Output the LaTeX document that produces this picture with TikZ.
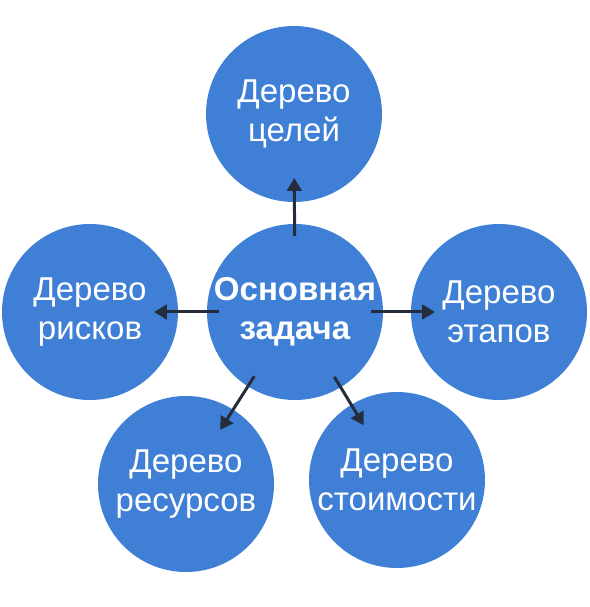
\documentclass[tikz,border=0pt]{standalone}
\usepackage{fontspec}
\setmainfont{Liberation Sans}
\usetikzlibrary{arrows.meta}
\definecolor{treeblue}{HTML}{3F7FD6}
\definecolor{arrowdark}{HTML}{252D3D}
\begin{document}
\begin{tikzpicture}[inner sep=0pt,outer sep=0pt,
tree/.style={circle,fill=treeblue,minimum size=4.4cm,text=white,align=center,font=\fontsize{23.5}{28}\selectfont},
link/.style={-{Triangle[length=0.32cm,width=0.36cm]},line width=0.075cm,draw=arrowdark,shorten <=-0.3cm,shorten >=-0.6cm}]

\useasboundingbox (0,0) rectangle (14.75,15.175);

\draw (7.375,7.375) node[tree] (main) {\textbf{Основная}\\\textbf{задача}};
\draw (7.35,12.325) node[tree] (goals) {Дерево\\целей};
\draw (2.25,7.375) node[tree] (risks) {Дерево\\рисков};
\draw (12.475,7.375) node[tree] (stages) {Дерево\\этапов};
\draw (4.65,3.075) node[tree] (resources) {Дерево\\ресурсов};
\draw (9.925,3.175) node[tree] (costs) {Дерево\\стоимости};

\draw[link] (main) -- (goals);
\draw[link] (main) -- (risks);
\draw[link] (main) -- (stages);
\draw[link] (main) -- (resources);
\draw[link] (main) -- (costs);

\end{tikzpicture}
\end{document}
